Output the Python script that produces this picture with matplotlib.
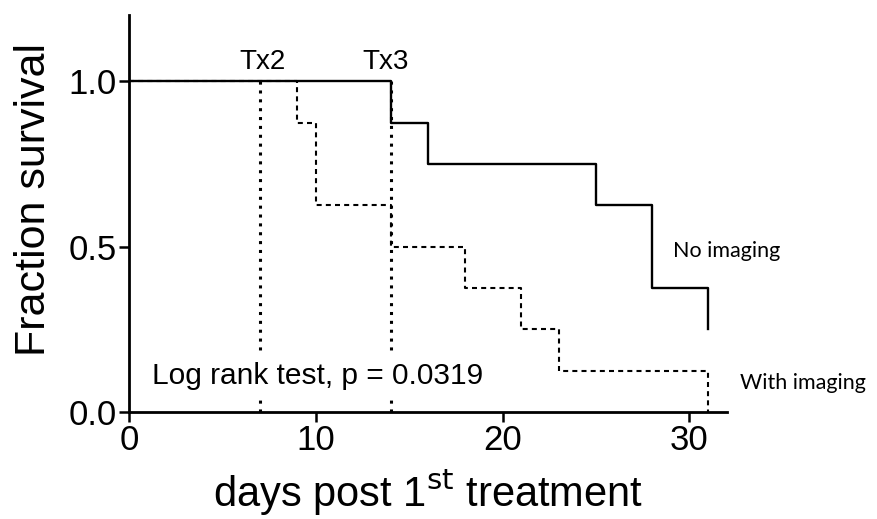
import numpy as np
import matplotlib
matplotlib.use('Agg')
import matplotlib.pyplot as plt

plt.rcParams['font.family'] = ['Liberation Sans', 'DejaVu Sans']

# Kaplan-Meier steps
no_img_days = [0, 14, 16, 25, 28, 31]
no_img_surv = [1.0, 0.875, 0.75, 0.625, 0.375, 0.25]
img_days = [0, 9, 10, 14, 18, 21, 23, 31]
img_surv = [1.0, 0.875, 0.625, 0.5, 0.375, 0.25, 0.125, 0.0]

tx_days = [7, 14]
tx_label_x = [7.15, 13.75]
tx_labels = ['Tx2', 'Tx3']

x_ticks = [0, 10, 20, 30]
y_ticks = [0.0, 0.5, 1.0]

fig = plt.figure(figsize=(8.78, 5.19), dpi=100)
ax = fig.add_axes([0.1473, 0.2062, 0.6804, 0.7648])

ax.step(no_img_days, no_img_surv, where='post', color='black', lw=1.7)
ax.step(img_days, img_surv, where='post', color='black', lw=1.5,
        linestyle=(0, (2.4, 2.0)))

for d in tx_days:
    ax.plot([d, d], [0, 1.0], color='black', lw=2.2, linestyle=(0, (1, 1.9)))
for xt, lab in zip(tx_label_x, tx_labels):
    ax.text(xt, 1.036, lab, ha='center', va='baseline', fontsize=20)

ax.text(1.2, 0.084, 'Log rank test, p = 0.0319', ha='left', va='baseline',
        fontsize=21.5, zorder=5,
        bbox=dict(boxstyle='square,pad=0.3', facecolor='white', edgecolor='none'))
ax.text(29.1, 0.468, 'No imaging', ha='left', va='baseline', fontsize=15.5,
        family=['Lato', 'DejaVu Sans'])
ax.text(32.7, 0.069, 'With imaging', ha='left', va='baseline', fontsize=15.5,
        family=['Lato', 'DejaVu Sans'], clip_on=False)

ax.set_xlim(0, 32)
ax.set_ylim(0, 1.2)
ax.set_xticks(x_ticks)
ax.set_yticks(y_ticks)
ax.set_yticklabels([f'{v:.1f}' for v in y_ticks])
ax.tick_params(labelsize=25, width=1.8, length=7, direction='out', pad=2)

ax.spines['top'].set_visible(False)
ax.spines['right'].set_visible(False)
ax.spines['left'].set_linewidth(2)
ax.spines['bottom'].set_linewidth(2)

ax.set_xlabel('days post 1$^{\\mathrm{st}}$ treatment', fontsize=30, va='baseline')
ax.xaxis.set_label_coords(0.5, -0.240)
ax.set_ylabel('Fraction survival', fontsize=31, rotation=90,
              rotation_mode='anchor', ha='center', va='baseline')
ax.yaxis.set_label_coords(-0.141, 0.5365)

plt.savefig('out.png', dpi=100)
